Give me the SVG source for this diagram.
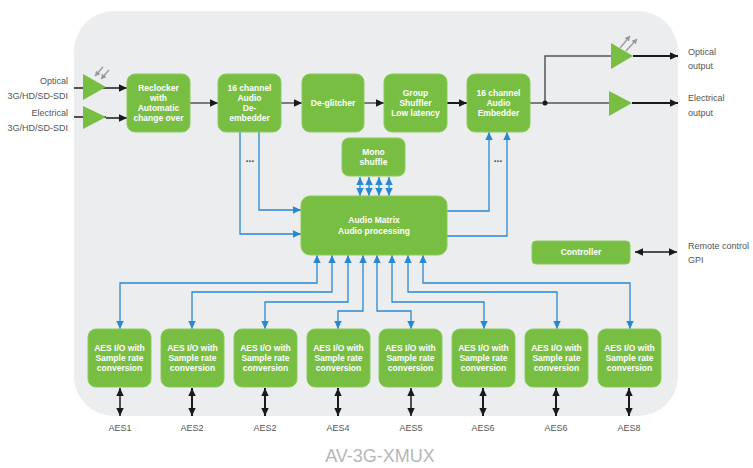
<svg xmlns="http://www.w3.org/2000/svg" width="753" height="468" viewBox="0 0 753 468">
<style>
.box{fill:#77BE43;stroke:#8CCB5E;stroke-width:1}
.bt{font-family:"Liberation Sans",Arial,sans-serif;font-size:8.5px;font-weight:bold;fill:#fff;text-anchor:middle}
.lbl{font-family:"Liberation Sans",Arial,sans-serif;font-size:9px;fill:#555}
.aes{font-family:"Liberation Sans",Arial,sans-serif;font-size:9px;fill:#555;text-anchor:middle}
.dots{font-family:"Liberation Sans",Arial,sans-serif;font-size:10px;font-weight:bold;fill:#444;text-anchor:middle}
.gl{fill:none;stroke:#555;stroke-width:1.5}
.kl{fill:none;stroke:#1a1a1a;stroke-width:2}
.bl{fill:none;stroke:#2A88D0;stroke-width:1.3}
.tri{fill:#77BE43}
.sm{fill:none;stroke:#999;stroke-width:1.3}
</style>
<defs>
<marker id="ak" markerUnits="userSpaceOnUse" markerWidth="9" markerHeight="9" refX="8" refY="4.5" orient="auto-start-reverse"><path d="M0,0.8 L8,4.5 L0,8.2 z" fill="#1a1a1a"/></marker>
<marker id="ab" markerUnits="userSpaceOnUse" markerWidth="9" markerHeight="9" refX="8" refY="4.5" orient="auto-start-reverse"><path d="M0,0.8 L8,4.5 L0,8.2 z" fill="#2A88D0"/></marker>
<marker id="ag" markerUnits="userSpaceOnUse" markerWidth="6" markerHeight="6" refX="5" refY="3" orient="auto"><path d="M0,0 L5,3 L0,6 z" fill="#999"/></marker>
</defs>
<rect id="panel" x="74" y="11" width="604" height="405" rx="40" fill="#ECEDEF"/>

<g id="connectors">
<path class="gl" d="M74,88 H106" style="stroke:#1a1a1a"/>
<path class="gl" d="M106,88 H127" style="stroke:#1a1a1a" marker-end="url(#ak)"/>
<path class="gl" d="M74,117 H106" style="stroke:#1a1a1a"/>
<path class="gl" d="M106,118 H127" style="stroke:#1a1a1a" marker-end="url(#ak)"/>
<path class="sm" d="M103,67 L95,76" marker-end="url(#ag)"/>
<path class="sm" d="M109,70 L101,79" marker-end="url(#ag)"/>
<path class="gl" d="M190,103 H218" marker-end="url(#ak)"/>
<path class="gl" d="M281,103 H302" marker-end="url(#ak)"/>
<path class="gl" d="M364,103 H384" marker-end="url(#ak)"/>
<path class="kl" d="M447,103 H467" marker-end="url(#ak)"/>
<path class="gl" d="M530,103 H609"/>
<path class="gl" d="M545,103 V56 H611"/>
<circle cx="545" cy="103" r="2.5" fill="#1a1a1a"/>
<path class="kl" d="M632,103 H678" marker-end="url(#ak)"/>
<path class="kl" d="M633,56 H678" marker-end="url(#ak)"/>
<path class="sm" d="M620,48 L630,36" marker-end="url(#ag)"/>
<path class="sm" d="M626,51 L637,39" marker-end="url(#ag)"/>
<path class="bl" d="M259,132 V210 H301" marker-end="url(#ab)"/>
<path class="bl" d="M240,132 V234 H301" marker-end="url(#ab)"/>
<path class="bl" d="M447,211 H489 V132" marker-end="url(#ab)"/>
<path class="bl" d="M447,236 H507 V132" marker-end="url(#ab)"/>
<path class="bl" d="M360,177 V196" marker-start="url(#ab)" marker-end="url(#ab)"/>
<path class="bl" d="M369,177 V196" marker-start="url(#ab)" marker-end="url(#ab)"/>
<path class="bl" d="M379,177 V196" marker-start="url(#ab)" marker-end="url(#ab)"/>
<path class="bl" d="M389,177 V196" marker-start="url(#ab)" marker-end="url(#ab)"/>
<path class="bl" d="M317,255 V283 H120 V329" marker-start="url(#ab)" marker-end="url(#ab)"/>
<path class="bl" d="M332,255 V292 H192 V329" marker-start="url(#ab)" marker-end="url(#ab)"/>
<path class="bl" d="M348,255 V302 H265 V329" marker-start="url(#ab)" marker-end="url(#ab)"/>
<path class="bl" d="M363,255 V311 H338 V329" marker-start="url(#ab)" marker-end="url(#ab)"/>
<path class="bl" d="M377,255 V311 H411 V329" marker-start="url(#ab)" marker-end="url(#ab)"/>
<path class="bl" d="M392,255 V302 H484 V329" marker-start="url(#ab)" marker-end="url(#ab)"/>
<path class="bl" d="M408,255 V292 H557 V329" marker-start="url(#ab)" marker-end="url(#ab)"/>
<path class="bl" d="M423,255 V283 H630 V329" marker-start="url(#ab)" marker-end="url(#ab)"/>
<path class="kl" d="M120,388 V416" marker-start="url(#ak)" marker-end="url(#ak)" style="stroke-width:1.5"/>
<path class="kl" d="M192,388 V416" marker-start="url(#ak)" marker-end="url(#ak)"/>
<path class="kl" d="M265,388 V416" marker-start="url(#ak)" marker-end="url(#ak)"/>
<path class="kl" d="M338,388 V416" marker-start="url(#ak)" marker-end="url(#ak)"/>
<path class="kl" d="M411,388 V416" marker-start="url(#ak)" marker-end="url(#ak)" style="stroke-width:1.5"/>
<path class="kl" d="M483,388 V416" marker-start="url(#ak)" marker-end="url(#ak)"/>
<path class="kl" d="M556,388 V416" marker-start="url(#ak)" marker-end="url(#ak)"/>
<path class="kl" d="M629,388 V416" marker-start="url(#ak)" marker-end="url(#ak)"/>
<path class="gl" d="M635,252 H677" style="stroke:#1a1a1a" marker-start="url(#ak)" marker-end="url(#ak)"/>
<text class="dots" x="250" y="162">...</text>
<text class="dots" x="498" y="162">...</text>
</g>

<g id="in-optical"><polygon class="tri" points="83,74 106,87 83,100"/></g>
<g id="in-electrical"><polygon class="tri" points="83,106 106,117 83,129"/></g>
<g id="out-optical"><polygon class="tri" points="611,43 633,56 611,69"/></g>
<g id="out-electrical"><polygon class="tri" points="609,91 632,103 609,116"/></g>

<g id="reclocker"><rect class="box" x="127" y="74" width="63" height="58" rx="8"/>
<text class="bt" x="158.5" y="90.5">Reclocker</text><text class="bt" x="158.5" y="101">with</text><text class="bt" x="158.5" y="111">Automatic</text><text class="bt" x="158.5" y="121">change over</text></g>
<g id="deembedder"><rect class="box" x="218" y="74" width="63" height="58" rx="8"/>
<text class="bt" x="249.5" y="90.5">16 channel</text><text class="bt" x="249.5" y="101">Audio</text><text class="bt" x="249.5" y="111">De-</text><text class="bt" x="249.5" y="121">embedder</text></g>
<g id="deglitcher"><rect class="box" x="302" y="74" width="62" height="58" rx="8"/>
<text class="bt" x="333" y="106">De-glitcher</text></g>
<g id="shuffler"><rect class="box" x="384" y="74" width="63" height="58" rx="8"/>
<text class="bt" x="415.5" y="96">Group</text><text class="bt" x="415.5" y="106">Shuffler</text><text class="bt" x="415.5" y="116">Low latency</text></g>
<g id="embedder"><rect class="box" x="467" y="74" width="63" height="58" rx="8"/>
<text class="bt" x="498.5" y="96">16 channel</text><text class="bt" x="498.5" y="106">Audio</text><text class="bt" x="498.5" y="116">Embedder</text></g>
<g id="mono"><rect class="box" x="342" y="138" width="63" height="38" rx="7"/>
<text class="bt" x="373.5" y="155">Mono</text><text class="bt" x="373.5" y="165">shuffle</text></g>
<g id="matrix"><rect class="box" x="301" y="196" width="146" height="59" rx="9"/>
<text class="bt" x="374" y="223">Audio Matrix</text><text class="bt" x="374" y="234">Audio processing</text></g>
<g id="controller"><rect class="box" x="532" y="241" width="98" height="23" rx="4"/>
<text class="bt" x="581" y="255">Controller</text></g>

<g id="aes1"><rect class="box" x="88" y="329" width="63" height="58" rx="8"/><text class="bt" x="119.5" y="351">AES I/O with</text><text class="bt" x="119.5" y="361">Sample rate</text><text class="bt" x="119.5" y="371">conversion</text></g>
<g id="aes2"><rect class="box" x="161" y="329" width="63" height="58" rx="8"/><text class="bt" x="192.5" y="351">AES I/O with</text><text class="bt" x="192.5" y="361">Sample rate</text><text class="bt" x="192.5" y="371">conversion</text></g>
<g id="aes3"><rect class="box" x="234" y="329" width="63" height="58" rx="8"/><text class="bt" x="265.5" y="351">AES I/O with</text><text class="bt" x="265.5" y="361">Sample rate</text><text class="bt" x="265.5" y="371">conversion</text></g>
<g id="aes4"><rect class="box" x="307" y="329" width="63" height="58" rx="8"/><text class="bt" x="338.5" y="351">AES I/O with</text><text class="bt" x="338.5" y="361">Sample rate</text><text class="bt" x="338.5" y="371">conversion</text></g>
<g id="aes5"><rect class="box" x="379" y="329" width="63" height="58" rx="8"/><text class="bt" x="410.5" y="351">AES I/O with</text><text class="bt" x="410.5" y="361">Sample rate</text><text class="bt" x="410.5" y="371">conversion</text></g>
<g id="aes6"><rect class="box" x="452" y="329" width="63" height="58" rx="8"/><text class="bt" x="483.5" y="351">AES I/O with</text><text class="bt" x="483.5" y="361">Sample rate</text><text class="bt" x="483.5" y="371">conversion</text></g>
<g id="aes7"><rect class="box" x="525" y="329" width="63" height="58" rx="8"/><text class="bt" x="556.5" y="351">AES I/O with</text><text class="bt" x="556.5" y="361">Sample rate</text><text class="bt" x="556.5" y="371">conversion</text></g>
<g id="aes8"><rect class="box" x="598" y="329" width="63" height="58" rx="8"/><text class="bt" x="629.5" y="351">AES I/O with</text><text class="bt" x="629.5" y="361">Sample rate</text><text class="bt" x="629.5" y="371">conversion</text></g>

<g id="labels">
<text class="lbl" x="68" y="84" text-anchor="end">Optical</text>
<text class="lbl" x="68" y="99" text-anchor="end">3G/HD/SD-SDI</text>
<text class="lbl" x="68" y="116" text-anchor="end">Electrical</text>
<text class="lbl" x="68" y="131" text-anchor="end">3G/HD/SD-SDI</text>
<text class="lbl" x="688" y="55">Optical</text>
<text class="lbl" x="688" y="69">output</text>
<text class="lbl" x="688" y="101">Electrical</text>
<text class="lbl" x="688" y="116">output</text>
<text class="lbl" x="688" y="249">Remote control</text>
<text class="lbl" x="688" y="263">GPI</text>
<text class="aes" x="120" y="431">AES1</text>
<text class="aes" x="192" y="431">AES2</text>
<text class="aes" x="265" y="431">AES2</text>
<text class="aes" x="338" y="431">AES4</text>
<text class="aes" x="411" y="431">AES5</text>
<text class="aes" x="483" y="431">AES6</text>
<text class="aes" x="556" y="431">AES6</text>
<text class="aes" x="629" y="431">AES8</text>
<text x="380" y="462" text-anchor="middle" style="font-family:'Liberation Sans',Arial,sans-serif;font-size:18px;fill:#B5B7BA">AV-3G-XMUX</text>
</g>
</svg>
